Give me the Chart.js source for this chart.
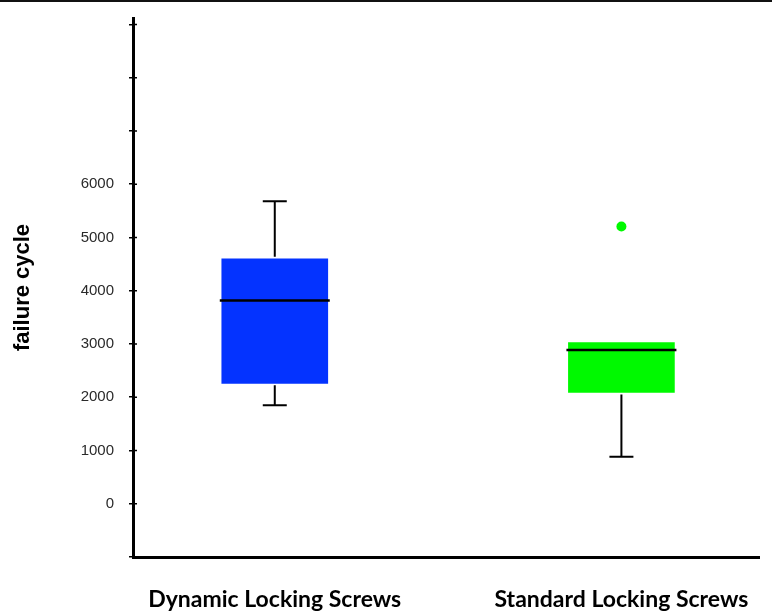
<!DOCTYPE html>
<html>
<head>
<meta charset="utf-8">
<script src="https://cdn.jsdelivr.net/npm/chart.js@4.4.0/dist/chart.umd.min.js"></script>
<style>
  html, body { margin: 0; padding: 0; background: #fff; overflow: hidden; }
  #wrap { width: 772px; height: 611px; position: relative; }
  #topline { position: absolute; left: 0; top: 0; width: 772px; height: 2px; background: #111; }
</style>
</head>
<body>
<div id="wrap"><canvas id="chart" width="772" height="611"></canvas><div id="topline"></div></div>
<script>
// box plot values
const groups = ["Dynamic Locking Screws", "Standard Locking Screws"];
const minValues = [1850, 880];
const q1Values = [2260, 2090];
const medianValues = [3815, 2885];
const q3Values = [4600, 3025];
const maxValues = [5680, 3025];
const outlierValues = [[], [5205]];
const boxColors = ["#0433ff", "#00f900"];
// tick marks on the y axis, only some of them carry a label
const yTickValues = [-1000, 0, 1000, 2000, 3000, 4000, 5000, 6000, 7000, 8000, 9000];
const yTickLabels = ["", "0", "1000", "2000", "3000", "4000", "5000", "6000", "", "", ""];

const boxData = groups.map((g, i) => ({ x: i + 1, y: [q1Values[i], q3Values[i]] }));
const outlierData = [];
outlierValues.forEach((vals, i) => vals.forEach(v => outlierData.push({ x: i + 1, y: v })));

// whiskers, median lines and the inner half of the y tick marks
const whiskerPlugin = {
  id: "whiskers",
  afterDatasetsDraw(chart) {
    const { ctx, scales: { x, y } } = chart;
    const meta = chart.getDatasetMeta(0);
    ctx.save();
    ctx.strokeStyle = "#000";
    ctx.lineWidth = 1.5;
    ctx.beginPath();
    y.ticks.forEach(t => {
      const py = y.getPixelForValue(t.value);
      ctx.moveTo(x.left, py);
      ctx.lineTo(x.left + 4, py);
    });
    ctx.stroke();
    groups.forEach((g, i) => {
      const cx = x.getPixelForValue(i + 1);
      const half = meta.data[i].width / 2;
      const cap = 12;
      ctx.lineWidth = 2;
      ctx.beginPath();
      if (maxValues[i] > q3Values[i]) {
        ctx.moveTo(cx, y.getPixelForValue(q3Values[i]) - 2);
        ctx.lineTo(cx, y.getPixelForValue(maxValues[i]));
        ctx.moveTo(cx - cap, y.getPixelForValue(maxValues[i]));
        ctx.lineTo(cx + cap, y.getPixelForValue(maxValues[i]));
      }
      if (minValues[i] < q1Values[i]) {
        ctx.moveTo(cx, y.getPixelForValue(q1Values[i]) + 2);
        ctx.lineTo(cx, y.getPixelForValue(minValues[i]));
        ctx.moveTo(cx - cap, y.getPixelForValue(minValues[i]));
        ctx.lineTo(cx + cap, y.getPixelForValue(minValues[i]));
      }
      ctx.stroke();
      ctx.lineWidth = 2.5;
      ctx.beginPath();
      ctx.moveTo(cx - half - 2, y.getPixelForValue(medianValues[i]));
      ctx.lineTo(cx + half + 2, y.getPixelForValue(medianValues[i]));
      ctx.stroke();
    });
    ctx.restore();
  }
};

new Chart(document.getElementById("chart"), {
  type: "bar",
  data: {
    datasets: [
      {
        data: boxData,
        backgroundColor: boxColors,
        borderWidth: 0,
        barThickness: 106
      },
      {
        type: "scatter",
        data: outlierData,
        backgroundColor: boxColors[1],
        borderWidth: 0,
        pointRadius: 5
      }
    ]
  },
  options: {
    responsive: false,
    animation: false,
    devicePixelRatio: 1,
    layout: { padding: { top: 18, right: 12, left: 0, bottom: 0 } },
    plugins: { legend: { display: false }, tooltip: { enabled: false } },
    scales: {
      x: {
        type: "linear",
        offset: false,
        min: 0.591,
        max: 2.397,
        afterBuildTicks: (scale) => { scale.ticks = groups.map((g, i) => ({ value: i + 1 })); },
        afterFit: (scale) => { scale.height = 54; },
        grid: { display: false },
        border: { display: true, color: "#000", width: 3 },
        ticks: {
          callback: (v) => groups[v - 1] || "",
          color: "#000",
          padding: 21,
          maxRotation: 0,
          autoSkip: false,
          font: { family: "Lato", weight: "bold", size: 23 }
        }
      },
      y: {
        min: -1000,
        max: 9120,
        afterBuildTicks: (scale) => { scale.ticks = yTickValues.map(v => ({ value: v })); },
        afterFit: (scale) => {
          scale.width = 133;
          scale.paddingTop = 0;
          scale.paddingBottom = 0;
        },
        grid: { drawOnChartArea: false, color: "#000", tickLength: 4, lineWidth: 1.5 },
        border: { display: true, color: "#000", width: 3 },
        title: {
          display: true,
          text: "failure cycle",
          color: "#000",
          padding: { top: 10, bottom: 0 },
          font: { family: "Liberation Sans", weight: "bold", size: 22 }
        },
        ticks: {
          autoSkip: false,
          padding: 15,
          color: "#2a2a2a",
          callback: (v, i) => yTickLabels[i],
          font: { family: "Liberation Sans", size: 15 }
        }
      }
    }
  },
  plugins: [whiskerPlugin]
});
</script>
</body>
</html>
